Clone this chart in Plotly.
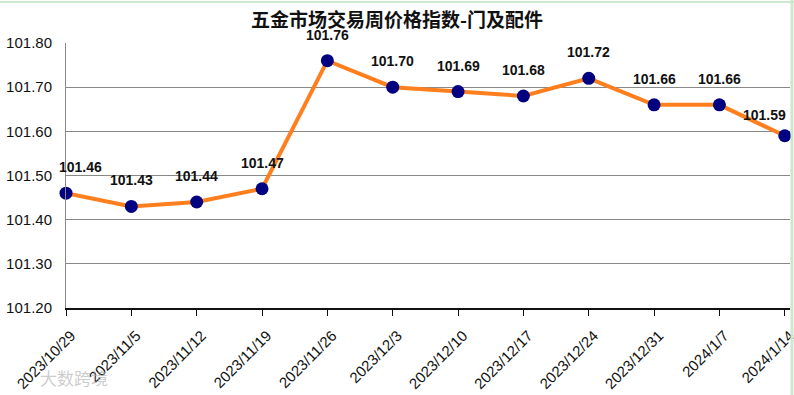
import plotly.graph_objects as go

dates = ["2023/10/29", "2023/11/5", "2023/11/12", "2023/11/19", "2023/11/26", "2023/12/3",
         "2023/12/10", "2023/12/17", "2023/12/24", "2023/12/31", "2024/1/7", "2024/1/14"]
values = [101.46, 101.43, 101.44, 101.47, 101.76, 101.70, 101.69, 101.68, 101.72, 101.66, 101.66, 101.59]
yticks = [101.20, 101.30, 101.40, 101.50, 101.60, 101.70, 101.80]
title = "五金市场交易周价格指数-门及配件"

fig = go.Figure()
fig.add_trace(go.Scatter(
    x=dates, y=values, mode="lines+markers",
    line=dict(color="#FF7F1E", width=4),
    marker=dict(color="#000080", size=13),
    cliponaxis=False,
    hoverinfo="skip",
))

n = len(dates)
for i, (d, v) in enumerate(zip(dates, values)):
    xs = 0
    ys = 26
    if i == 0:
        xs = 14
    elif i == n - 1:
        xs = -20
        ys = 21
    fig.add_annotation(x=d, y=v, text=f"{v:.2f}", showarrow=False,
                       xshift=xs, yshift=ys, yanchor="middle",
                       font=dict(family="Liberation Sans, Arial", size=14, color="#111111", weight="bold"))

fig.update_layout(
    width=794, height=395,
    margin=dict(l=66, r=4, t=43, b=87),
    paper_bgcolor="white", plot_bgcolor="white",
    showlegend=False,
    title=dict(text=title, x=0.5, xanchor="center", y=0.948, yanchor="middle",
               font=dict(family="Noto Sans CJK SC", size=19, color="#111111", weight="bold")),
    font=dict(family="Liberation Sans, Arial", color="#111111"),
)
fig.update_xaxes(
    type="category", range=[0, 11.08], automargin=False,
    showline=True, linecolor="#111111", linewidth=2,
    ticks="outside", ticklen=6, tickcolor="#111111",
    tickangle=-45, tickfont=dict(size=15, color="#111111"),
    ticklabelshift=5, ticklabelstandoff=5,
    showgrid=False,
)
fig.update_yaxes(
    range=[101.2, 101.8], tickvals=yticks, automargin=False,
    ticktext=[f"{v:.2f}" for v in yticks],
    showgrid=True, gridcolor="#888888", gridwidth=1,
    showline=True, linecolor="#888888", linewidth=1,
    ticks="", tickfont=dict(size=15, color="#111111"),
    ticklabelstandoff=10,
    zeroline=False,
)
fig.add_annotation(text="大数跨境", xref="paper", yref="paper", x=-0.039, y=-0.264,
                   xanchor="left", yanchor="middle", showarrow=False,
                   font=dict(family="Noto Sans CJK SC", size=17, color="rgba(170,170,170,0.6)"))
# light green sheet edges
fig.add_shape(type="line", xref="paper", yref="paper", x0=1.0027, x1=1.0027, y0=-1, y1=2,
              line=dict(color="#CDE8CD", width=3))
fig.add_shape(type="line", xref="paper", yref="paper", x0=-1, x1=2, y0=1.155, y1=1.155,
              line=dict(color="#CDE8CD", width=2))
fig.write_html("out.html", config={"displayModeBar": False},
               post_script="document.body.style.margin='0';document.body.style.overflow='hidden';")
